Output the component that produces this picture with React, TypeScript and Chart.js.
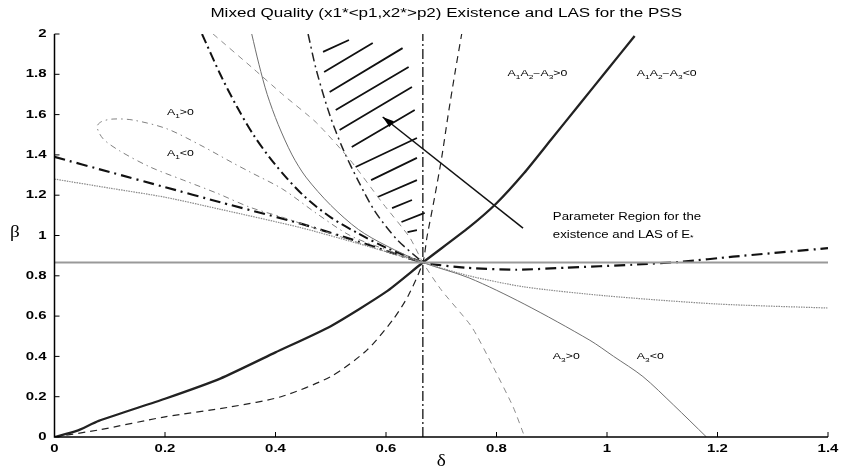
import { useEffect, useRef } from "react";
import { Chart, registerables } from "chart.js";

Chart.register(...registerables);

// Axis ticks
const deltaTicks = [0, 0.2, 0.4, 0.6, 0.8, 1, 1.2, 1.4];
const deltaTickLabels = ["0", "0.2", "0.4", "0.6", "0.8", "1", "1.2", "1.4"];
const betaTicks = [0, 0.2, 0.4, 0.6, 0.8, 1, 1.2, 1.4, 1.6, 1.8, 2];
const betaTickLabels = ["0", "0.2", "0.4", "0.6", "0.8", "1", "1.2", "1.4", "1.6", "1.8", "2"];

// Horizontal level through the equilibrium point
const levelDelta = [0, 1.4];
const levelBeta = [0.866, 0.866];

// Vertical line delta = 2/3
const verticalDelta = [0.6667, 0.6667];
const verticalBeta = [0, 2];

// A1A2 - A3 = 0 boundary
const hopfDelta = [0, 0.04, 0.08, 0.2, 0.3, 0.4, 0.5, 0.6, 0.6667, 0.75, 0.8, 0.85, 0.9, 0.95, 1.0, 1.05];
const hopfBeta = [0, 0.03, 0.08, 0.19, 0.29, 0.42, 0.55, 0.72, 0.866, 1.04, 1.16, 1.31, 1.48, 1.65, 1.82, 1.99];

// Black dashed curve (lower left to top)
const dashDelta = [0, 0.08, 0.2, 0.32, 0.41, 0.5, 0.565, 0.612, 0.64, 0.6667, 0.674, 0.688, 0.701, 0.712, 0.725, 0.737];
const dashBeta = [0, 0.035, 0.1, 0.15, 0.2, 0.3, 0.43, 0.58, 0.7, 0.866, 0.99, 1.19, 1.39, 1.59, 1.81, 2.0];

// Grey dashed curve (top left to bottom)
const greyDashDelta = [0.287, 0.359, 0.413, 0.474, 0.535, 0.594, 0.643, 0.6667, 0.7, 0.755, 0.794, 0.83, 0.851];
const greyDashBeta = [2, 1.83, 1.7, 1.56, 1.375, 1.16, 0.99, 0.866, 0.73, 0.547, 0.348, 0.15, 0];

// A3 = 0 curve (thin grey solid)
const a3Delta = [0.357, 0.37, 0.385, 0.405, 0.43, 0.455, 0.5, 0.55, 0.6, 0.6667, 0.75, 0.85, 0.969, 1.012, 1.065, 1.12, 1.18];
const a3Beta = [2, 1.85, 1.7, 1.55, 1.4, 1.29, 1.15, 1.03, 0.95, 0.866, 0.79, 0.66, 0.48, 0.4, 0.3, 0.16, 0];

// Heavy dash-dot curve from the top
const heavyDelta = [0.267, 0.3, 0.33, 0.36, 0.4, 0.45, 0.5, 0.55, 0.6, 0.6667];
const heavyBeta = [2, 1.8, 1.64, 1.5, 1.35, 1.2, 1.09, 1.01, 0.94, 0.866];

// Dash-dot boundary of the parameter region
const regionDelta = [0.459, 0.474, 0.498, 0.522, 0.55, 0.58, 0.62, 0.6667];
const regionBeta = [2, 1.82, 1.6, 1.43, 1.27, 1.12, 0.98, 0.866];

// A1 = 0 loop
const a1Delta = [0.6667, 0.6, 0.535, 0.474, 0.413, 0.354, 0.323, 0.263, 0.203, 0.142, 0.106, 0.085, 0.077, 0.088, 0.118, 0.173, 0.233, 0.294, 0.354, 0.413, 0.5, 0.6, 0.6667];
const a1Beta = [0.866, 0.93, 1.0, 1.11, 1.23, 1.315, 1.36, 1.45, 1.53, 1.573, 1.578, 1.565, 1.54, 1.48, 1.42, 1.34, 1.275, 1.21, 1.14, 1.09, 1.01, 0.92, 0.866];

// Heavy dash-dot curve from the left axis, continuing right
const sideDelta = [0, 0.1, 0.2, 0.3, 0.444, 0.55, 0.6667, 0.746, 0.836, 0.926, 1.046, 1.137, 1.228, 1.4];
const sideBeta = [1.39, 1.315, 1.24, 1.165, 1.06, 0.97, 0.866, 0.84, 0.83, 0.84, 0.855, 0.87, 0.895, 0.937];

// Grey dotted curve from the left axis, continuing right
const dotDelta = [0, 0.1, 0.2, 0.3, 0.444, 0.55, 0.6667, 0.75, 0.85, 1.0, 1.2, 1.4];
const dotBeta = [1.28, 1.235, 1.19, 1.13, 1.04, 0.96, 0.866, 0.8, 0.745, 0.7, 0.66, 0.64];

// Hatching inside the parameter region
const hatchStartDelta = [0.486, 0.488, 0.498, 0.509, 0.516, 0.538, 0.545, 0.573, 0.585, 0.611, 0.628, 0.639];
const hatchStartBeta = [1.911, 1.811, 1.712, 1.623, 1.524, 1.439, 1.34, 1.275, 1.191, 1.136, 1.067, 1.017];
const hatchEndDelta = [0.533, 0.576, 0.63, 0.641, 0.647, 0.652, 0.656, 0.656, 0.656, 0.647, 0.67, 0.656];
const hatchEndBeta = [1.97, 1.955, 1.93, 1.836, 1.737, 1.623, 1.484, 1.385, 1.275, 1.176, 1.112, 1.027];

// Arrow pointing into the region
const arrowDelta = [0.848, 0.594];
const arrowBeta = [1.037, 1.588];

// Text annotations in data coordinates
const noteText = ["A_1>0", "A_1<0", "A_1A_2−A_3>0", "A_1A_2−A_3<0", "Parameter Region for the", "existence and LAS of E_*", "A_3>0", "A_3<0"];
const noteDelta = [0.2035, 0.2035, 0.82, 1.054, 0.902, 0.902, 0.902, 1.054];
const noteBeta = [1.608, 1.404, 1.801, 1.801, 1.092, 1.0025, 0.397, 0.397];
const noteSize = [8.5, 8.5, 8.5, 8.5, 10, 10, 8.5, 8.5];

const TITLE = "Mixed Quality (x1*<p1,x2*>p2) Existence and LAS for the PSS";
const SANS = "'Liberation Sans', Arial, sans-serif";

const pts = (xs: number[], ys: number[]) => xs.map((x, i) => ({ x, y: ys[i] }));

function segments(x0: number[], y0: number[], x1: number[], y1: number[]) {
  const out: { x: number; y: number | null }[] = [];
  x0.forEach((_, i) => {
    out.push({ x: x0[i], y: y0[i] });
    out.push({ x: x1[i], y: y1[i] });
    out.push({ x: x1[i], y: null });
  });
  return out;
}

function series(data: any[], color: string, width: number, dash: number[], tension = 0.25) {
  return {
    data,
    borderColor: color,
    borderWidth: width,
    borderDash: dash,
    tension,
    pointRadius: 0,
    fill: false,
    spanGaps: false,
  };
}

// Draws text with "_x" subscripts, stretched horizontally
function drawRich(ctx: CanvasRenderingContext2D, text: string, x: number, y: number, size: number, sx: number, align: "left" | "center" = "left") {
  const parts: { t: string; sub: boolean }[] = [];
  for (let i = 0; i < text.length; i++) {
    if (text[i] === "_" && i + 1 < text.length) {
      parts.push({ t: text[i + 1], sub: true });
      i++;
    } else {
      const last = parts[parts.length - 1];
      if (last && !last.sub) last.t += text[i];
      else parts.push({ t: text[i], sub: false });
    }
  }
  const subSize = size * 0.68;
  let total = 0;
  parts.forEach((p) => {
    ctx.font = `${p.sub ? subSize : size}px ${SANS}`;
    total += ctx.measureText(p.t).width;
  });
  ctx.save();
  ctx.translate(x, y);
  ctx.scale(sx, 1);
  let cx = align === "center" ? -total / 2 : 0;
  ctx.textBaseline = "middle";
  ctx.textAlign = "left";
  parts.forEach((p) => {
    ctx.font = `${p.sub ? subSize : size}px ${SANS}`;
    ctx.fillText(p.t, cx, p.sub ? size * 0.35 : 0);
    cx += ctx.measureText(p.t).width;
  });
  ctx.restore();
}

function drawStretched(ctx: CanvasRenderingContext2D, text: string, x: number, y: number, font: string, sx: number, align: CanvasTextAlign) {
  ctx.save();
  ctx.translate(x, y);
  ctx.scale(sx, 1);
  ctx.font = font;
  ctx.textAlign = align;
  ctx.textBaseline = "middle";
  ctx.fillText(text, 0, 0);
  ctx.restore();
}

const overlay = {
  id: "overlay",
  afterDraw(chart: any) {
    const ctx: CanvasRenderingContext2D = chart.ctx;
    const xs = chart.scales.x;
    const ys = chart.scales.y;
    const { left, right, top, bottom } = chart.chartArea;
    ctx.save();
    ctx.fillStyle = "#000";
    ctx.strokeStyle = "#000";

    // axes
    ctx.lineWidth = 1.5;
    ctx.beginPath();
    ctx.moveTo(left, top);
    ctx.lineTo(left, bottom);
    ctx.lineTo(right, bottom);
    ctx.stroke();

    // ticks and tick labels
    const tickFont = `bold 11.5px ${SANS}`;
    ctx.lineWidth = 1;
    deltaTicks.forEach((v, i) => {
      const px = xs.getPixelForValue(v);
      ctx.beginPath();
      ctx.moveTo(px, bottom);
      ctx.lineTo(px, bottom - 5);
      ctx.stroke();
      drawStretched(ctx, deltaTickLabels[i], px, bottom + 12, tickFont, 1.3, "center");
    });
    betaTicks.forEach((v, i) => {
      const py = ys.getPixelForValue(v);
      ctx.beginPath();
      ctx.moveTo(left, py);
      ctx.lineTo(left + 5, py);
      ctx.stroke();
      drawStretched(ctx, betaTickLabels[i], left - 8, py, tickFont, 1.3, "right");
    });

    // title and axis titles
    drawStretched(ctx, TITLE, (left + right) / 2 + 5, 14, `12px ${SANS}`, 1.42, "center");
    drawStretched(ctx, "β", 15, (top + bottom) / 2 - 3, `16px 'Liberation Serif', serif`, 1.2, "center");
    drawStretched(ctx, "δ", (left + right) / 2, bottom + 25, `16px 'Liberation Serif', serif`, 1.2, "center");

    // annotations
    noteText.forEach((t, i) => {
      drawRich(ctx, t, xs.getPixelForValue(noteDelta[i]), ys.getPixelForValue(noteBeta[i]), noteSize[i], noteSize[i] > 9 ? 1.32 : 1.45);
    });

    // arrow head
    const x0 = xs.getPixelForValue(arrowDelta[0]);
    const y0 = ys.getPixelForValue(arrowBeta[0]);
    const x1 = xs.getPixelForValue(arrowDelta[1]);
    const y1 = ys.getPixelForValue(arrowBeta[1]);
    const ang = Math.atan2(y1 - y0, x1 - x0);
    const len = 12;
    const spread = 0.3;
    ctx.beginPath();
    ctx.moveTo(x1, y1);
    ctx.lineTo(x1 - len * Math.cos(ang - spread), y1 - len * Math.sin(ang - spread));
    ctx.lineTo(x1 - len * Math.cos(ang + spread), y1 - len * Math.sin(ang + spread));
    ctx.closePath();
    ctx.fill();
    ctx.restore();
  },
};

export default function App() {
  const ref = useRef<HTMLCanvasElement>(null);

  useEffect(() => {
    document.body.style.margin = "0";
    const canvas = ref.current;
    if (!canvas) return;
    const chart = new Chart(canvas, {
      type: "line",
      data: {
        datasets: [
          series(pts(levelDelta, levelBeta), "#999", 1.8, [], 0),
          series(pts(dotDelta, dotBeta), "#8a8a8a", 1.2, [1.5, 1], 0.25),
          series(pts(a1Delta, a1Beta), "#808080", 1, [6, 4, 1.5, 4], 0.3),
          series(pts(greyDashDelta, greyDashBeta), "#8c8c8c", 1, [6, 5], 0.2),
          series(pts(a3Delta, a3Beta), "#6f6f6f", 1, [], 0.3),
          series(pts(verticalDelta, verticalBeta), "#111", 1.3, [10, 3, 2, 3], 0),
          series(pts(dashDelta, dashBeta), "#222", 1.2, [7, 5], 0.25),
          series(pts(heavyDelta, heavyBeta), "#111", 2, [10, 4, 2, 4], 0.3),
          series(pts(regionDelta, regionBeta), "#222", 1.5, [9, 4, 2, 4], 0.3),
          series(pts(sideDelta, sideBeta), "#111", 2.2, [11, 5, 2, 5], 0.2),
          series(pts(hopfDelta, hopfBeta), "#222", 2.3, [], 0.2),
          series(segments(hatchStartDelta, hatchStartBeta, hatchEndDelta, hatchEndBeta), "#111", 1.8, [], 0),
          series(pts(arrowDelta, arrowBeta), "#111", 1.5, [], 0),
        ],
      },
      options: {
        animation: false,
        responsive: false,
        devicePixelRatio: 1,
        layout: { padding: { left: 0, right: 14, top: 34, bottom: 0 } },
        plugins: {
          legend: { display: false },
          title: { display: false },
          tooltip: { enabled: false },
        },
        scales: {
          x: {
            type: "linear",
            min: 0,
            max: 1.4,
            grid: { display: false },
            border: { display: false },
            ticks: { display: false },
            afterFit: (s: any) => {
              s.height = 33;
            },
          },
          y: {
            type: "linear",
            min: 0,
            max: 2,
            grid: { display: false },
            border: { display: false },
            ticks: { display: false },
            afterFit: (s: any) => {
              s.width = 54.5;
            },
          },
        },
      } as any,
      plugins: [overlay],
    });
    return () => chart.destroy();
  }, []);

  return (
    <div style={{ position: "absolute", left: 0, top: 0, width: 842, height: 470, background: "#fff" }}>
      <canvas ref={ref} width={842} height={470} style={{ display: "block" }} />
    </div>
  );
}
